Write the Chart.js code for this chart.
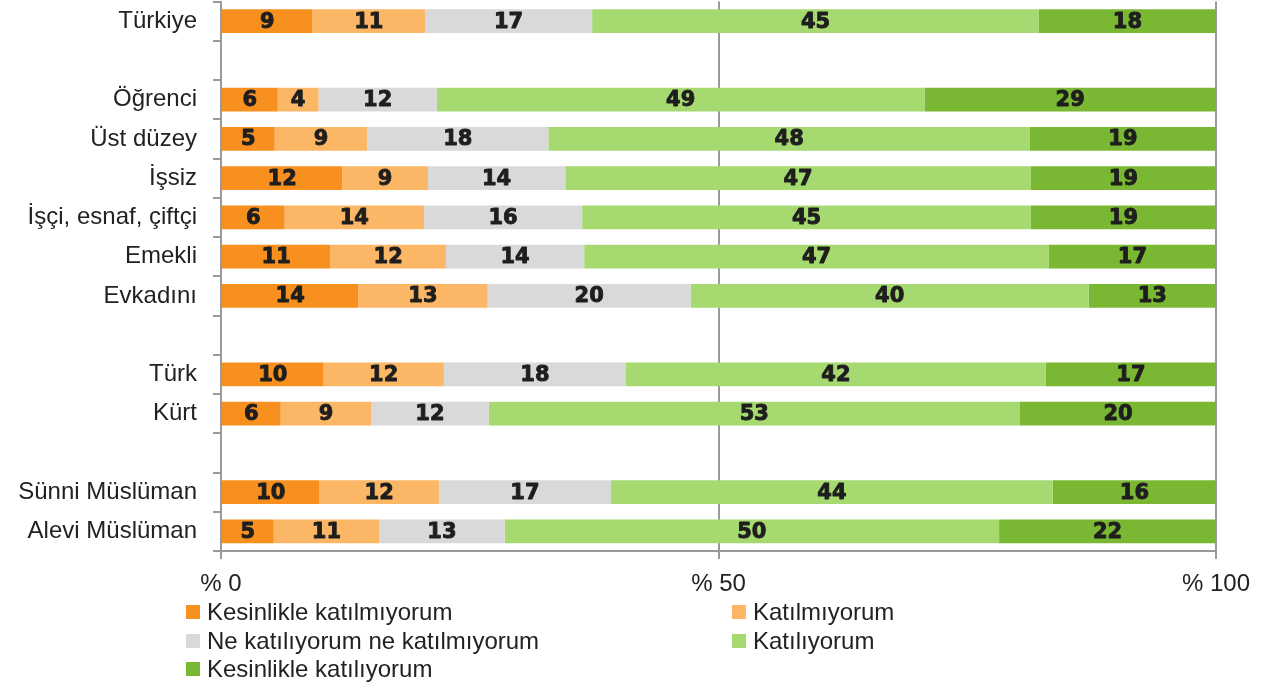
<!DOCTYPE html>
<html lang="tr">

<head>
    <meta charset="UTF-8">
    <title>Katılım dağılımı</title>
    <style>
        body {
            margin: 0;
            background-color: #fff;
            font-family: "Liberation Sans", Arial, sans-serif;
        }

        .wrap {
            position: relative;
            width: 1275px;
            height: 690px;
        }

        #legend {
            position: absolute;
            left: 186px;
            top: 598px;
            display: grid;
            grid-template-columns: 546px auto;
            row-gap: 0;
            color: #222;
            font-size: 24px;
        }

        .item {
            display: flex;
            align-items: center;
            height: 28.5px;
            white-space: nowrap;
        }

        .box {
            width: 14px;
            height: 14px;
            margin-right: 7px;
        }
    </style>
    <script src="https://cdn.jsdelivr.net/npm/chart.js"></script>
</head>

<body>
    <div class="wrap">
        <canvas id="myChart" width="1275" height="690"></canvas>
        <div id="legend"></div>
    </div>

    <script>
        // rows, empty strings are the spacer rows
        const categories = ['Türkiye', '', 'Öğrenci', 'Üst düzey', 'İşsiz', 'İşçi, esnaf, çiftçi', 'Emekli', 'Evkadını', '',
            'Türk', 'Kürt', '', 'Sünni Müslüman', 'Alevi Müslüman'];

        const seriesNames = ['Kesinlikle katılmıyorum', 'Katılmıyorum', 'Ne katılıyorum ne katılmıyorum', 'Katılıyorum', 'Kesinlikle katılıyorum'];

        const kesinlikleKatilmiyorum = [9.2, null, 5.7, 5.4, 12.2, 6.4, 11.0, 13.8, null, 10.3, 6.0, null, 9.9, 5.3];
        const katilmiyorum = [11.3, null, 4.1, 9.3, 8.6, 14.0, 11.6, 13.0, null, 12.1, 9.1, null, 12.0, 10.6];
        const kararsiz = [16.8, null, 11.9, 18.2, 13.8, 15.9, 13.9, 20.4, null, 18.3, 11.8, null, 17.3, 12.6];
        const katiliyorum = [44.9, null, 49.0, 48.4, 46.8, 45.1, 46.7, 40.0, null, 42.2, 53.4, null, 44.4, 49.7];
        const kesinlikleKatiliyorum = [17.8, null, 29.3, 18.7, 18.6, 18.6, 16.8, 12.8, null, 17.1, 19.7, null, 16.4, 21.8];

        const xTicks = [0, 50, 100];

        const colors = ['#F7901E', '#FBB666', '#D9D9D9', '#A6D96F', '#7AB833'];
        const seriesValues = [kesinlikleKatilmiyorum, katilmiyorum, kararsiz, katiliyorum, kesinlikleKatiliyorum];

        const axisGray = '#9a9a9a';

        // numbers in the middle of each segment
        const valueLabels = {
            id: 'valueLabels',
            afterDatasetsDraw(chart) {
                const ctx = chart.ctx;
                ctx.save();
                ctx.font = 'bold 21px "DejaVu Sans"';
                ctx.fillStyle = '#1e1e1e';
                ctx.strokeStyle = '#1e1e1e';
                ctx.lineWidth = 0.9;
                ctx.lineJoin = 'round';
                ctx.textAlign = 'center';
                ctx.textBaseline = 'middle';
                chart.data.datasets.forEach((ds, i) => {
                    const meta = chart.getDatasetMeta(i);
                    meta.data.forEach((bar, j) => {
                        const v = ds.data[j];
                        if (v === null) return;
                        const p = bar.getCenterPoint();
                        ctx.fillText(Math.round(v), p.x, p.y + 1);
                        ctx.strokeText(Math.round(v), p.x, p.y + 1);
                    });
                });
                ctx.restore();
            }
        };

        const ctx = document.getElementById('myChart').getContext('2d');
        const myChart = new Chart(ctx, {
            type: 'bar',
            data: {
                labels: categories,
                datasets: seriesNames.map((name, i) => ({
                    label: name,
                    data: seriesValues[i],
                    backgroundColor: colors[i],
                    borderWidth: 0,
                    categoryPercentage: 1,
                    barPercentage: 0.61
                }))
            },
            options: {
                indexAxis: 'y',
                responsive: false,
                animation: false,
                layout: {
                    padding: { top: 1.5, right: 59, bottom: 0, left: 0 }
                },
                scales: {
                    x: {
                        stacked: true,
                        min: 0,
                        max: 100,
                        afterBuildTicks: scale => {
                            scale.ticks = xTicks.map(v => ({ value: v }));
                        },
                        afterFit: scale => {
                            scale.height = 139;
                        },
                        ticks: {
                            padding: 11,
                            color: '#222',
                            font: { family: '"Liberation Sans"', size: 24 },
                            callback: v => '% ' + v
                        },
                        grid: {
                            color: axisGray,
                            lineWidth: 2,
                            tickLength: 8
                        },
                        border: { color: axisGray, width: 2 }
                    },
                    y: {
                        stacked: true,
                        afterFit: scale => {
                            scale.width = 221;
                            scale.paddingTop = 0;
                            scale.paddingBottom = 0;
                        },
                        ticks: {
                            padding: 16,
                            color: '#222',
                            font: { family: '"Liberation Sans"', size: 24 }
                        },
                        grid: {
                            offset: true,
                            drawOnChartArea: false,
                            color: axisGray,
                            lineWidth: 2,
                            tickLength: 8
                        },
                        border: { color: axisGray, width: 2 }
                    }
                },
                plugins: {
                    legend: { display: false },
                    tooltip: { enabled: false }
                }
            },
            plugins: [valueLabels]
        });

        // legend in two columns, filled row by row
        const legend = document.getElementById('legend');
        myChart.data.datasets.forEach(ds => {
            const item = document.createElement('div');
            item.className = 'item';
            item.innerHTML = '<span class="box" style="background:' + ds.backgroundColor + '"></span>' + ds.label;
            legend.appendChild(item);
        });
    </script>
</body>

</html>
